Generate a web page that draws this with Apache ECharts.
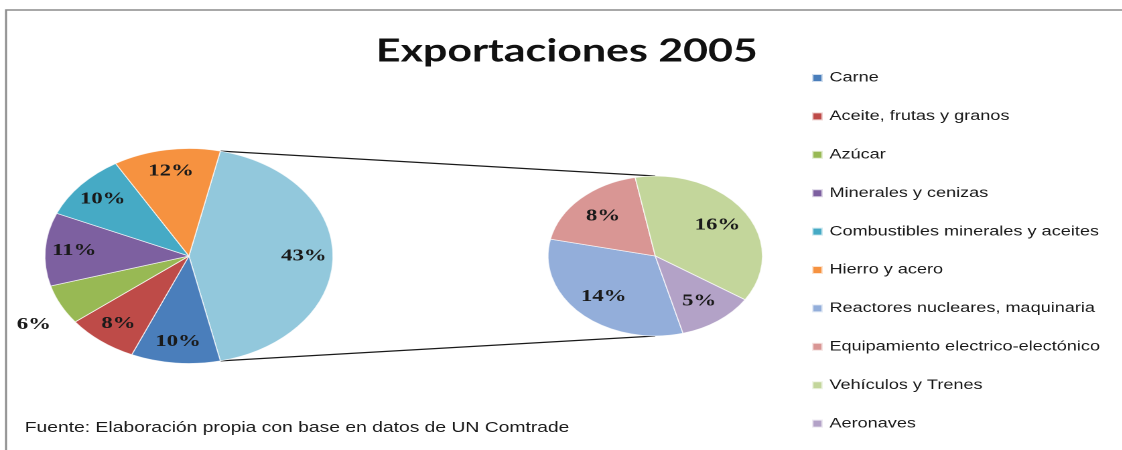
<!DOCTYPE html>
<html>
<head>
<meta charset="utf-8">
<script src="https://cdn.jsdelivr.net/npm/echarts@6/dist/echarts.min.js"></script>
<style>
  html, body { margin: 0; padding: 0; background: #ffffff; overflow: hidden; }
  #stage { width: 1122px; height: 450px; position: relative; overflow: hidden; }
  #chart { position: absolute; left: 0; top: 0; height: 450px; transform-origin: 0 0; }
</style>
</head>
<body>
<div id="stage"><div id="chart"></div></div>
<script>
// Main categories (shown in the left pie)
const primaryNames = ['Carne', 'Aceite, frutas y granos', 'Azúcar', 'Minerales y cenizas',
  'Combustibles minerales y aceites', 'Hierro y acero'];
const primaryValues = [10, 8, 6, 11, 10, 12];
const primaryColors = ['#4A7EBB', '#BE4B48', '#98B954', '#7D60A0', '#46AAC5', '#F69240'];

// Categories grouped in the detail pie (right)
const secondaryNames = ['Reactores nucleares, maquinaria', 'Equipamiento electrico-electónico',
  'Vehículos y Trenes', 'Aeronaves'];
const secondaryValues = [14, 8, 16, 5];
const secondaryColors = ['#93AEDA', '#D99694', '#C3D69B', '#B3A2C7'];

const otherName = 'Otros';
const otherColor = '#92C8DC';

const titleText = 'Exportaciones 2005';
const sourceText = 'Fuente: Elaboración propia con base en datos de UN Comtrade';

// The drawing is laid out on a narrower canvas and stretched horizontally,
// which turns both pies into wide ellipses.
const SX = 1.34;
const W = 1122 / SX;

const CY = 256;
const LEFT = { cx: 141, r: 107.5, labelAt: 0.77 };
const RIGHT = { cx: 489, r: 80, labelAt: 0.66 };

const otherValue = secondaryValues.reduce((a, b) => a + b, 0);
const total = otherValue + primaryValues.reduce((a, b) => a + b, 0);
// "Otros" slice is centred on the right-hand side, facing the detail pie
const halfOther = otherValue / total * 360 / 2;
const leftStart = halfOther;
const rightStart = 285;

const labelFont = {
  fontFamily: 'Liberation Serif', fontWeight: 'bold', fontSize: 17, color: '#1a1a1a'
};

const leftData = [{ name: otherName, value: otherValue, itemStyle: { color: otherColor } }]
  .concat(primaryNames.map((n, i) => ({ name: n, value: primaryValues[i], itemStyle: { color: primaryColors[i] } })));
const rightData = secondaryNames.map((n, i) => ({ name: n, value: secondaryValues[i], itemStyle: { color: secondaryColors[i] } }));

// Slices too thin for an inside label get an outside one
const outsideNames = ['Azúcar'];

function leftSliceData() {
  return leftData.map(d => Object.assign({}, d, {
    label: outsideNames.includes(d.name)
      ? Object.assign({ show: true, position: 'outside', distanceToLabelLine: -32, formatter: '{c}%' }, labelFont)
      : { show: false }
  }));
}

// Transparent twin pies, twice the label radius, so 'inside' labels sit at labelAt * r
function labelLayer(data, geo, start, skip) {
  return {
    type: 'pie', silent: true, z: 5,
    center: [geo.cx, CY], radius: [0, geo.r * geo.labelAt * 2],
    startAngle: start, clockwise: true, animation: false,
    avoidLabelOverlap: false, legendHoverLink: false, tooltip: { show: false },
    itemStyle: { color: 'transparent', borderWidth: 0 },
    label: Object.assign({ show: true, position: 'inside', formatter: '{c}%' }, labelFont),
    labelLine: { show: false },
    emphasis: { disabled: true },
    data: data.map(d => ({
      name: d.name, value: d.value,
      itemStyle: { color: 'transparent' },
      label: { show: !skip.includes(d.name) }
    }))
  };
}

// Connector lines between the "Otros" slice edges and the detail pie
const a = halfOther * Math.PI / 180;
const lx = LEFT.cx + LEFT.r * Math.cos(a);
const ly = LEFT.r * Math.sin(a);
const connectorStyle = { stroke: '#1a1a1a', lineWidth: 1.3 };

const chartDom = document.getElementById('chart');
chartDom.style.width = W + 'px';
chartDom.style.transform = 'scaleX(' + SX + ')';
const chart = echarts.init(chartDom, null, { renderer: 'canvas', devicePixelRatio: 2 });

chart.setOption({
  backgroundColor: '#ffffff',
  animation: false,
  title: {
    text: titleText,
    left: 418, top: 30, textAlign: 'center',
    textStyle: { fontFamily: 'Lato', fontWeight: 'bold', fontSize: 32, color: '#111111' }
  },
  legend: {
    orient: 'vertical', left: 605, top: 70, padding: 0,
    icon: 'rect', itemWidth: 8, itemHeight: 8, itemGap: 22.4,
    selectedMode: false,
    textStyle: { fontFamily: 'Liberation Sans', fontSize: 13.5, color: '#1a1a1a', lineHeight: 16 },
    data: primaryNames.concat(secondaryNames)
  },
  graphic: [
    { type: 'rect', silent: true, z: 0,
      shape: { x: 4.5, y: 10, width: W + 40, height: 500 },
      style: { fill: 'none', stroke: '#8c8c8c', lineWidth: 1.5 } },
    { type: 'text', silent: true, x: 18.5, y: 428,
      style: { text: sourceText, fontFamily: 'Liberation Sans', fontSize: 14.4, fill: '#1a1a1a',
        verticalAlign: 'middle', textAlign: 'left' } },
    { type: 'line', silent: true, z: 1,
      shape: { x1: lx, y1: CY - ly, x2: RIGHT.cx, y2: CY - RIGHT.r }, style: connectorStyle },
    { type: 'line', silent: true, z: 1,
      shape: { x1: lx, y1: CY + ly, x2: RIGHT.cx, y2: CY + RIGHT.r }, style: connectorStyle }
  ],
  series: [
    {
      type: 'pie', name: 'primary', z: 2,
      center: [LEFT.cx, CY], radius: [0, LEFT.r],
      startAngle: leftStart, clockwise: true,
      avoidLabelOverlap: false,
      itemStyle: { borderColor: 'rgba(255,255,255,0.75)', borderWidth: 0.8 },
      labelLine: { show: false, length: 44, length2: 0 },
      emphasis: { disabled: true },
      data: leftSliceData()
    },
    {
      type: 'pie', name: 'secondary', z: 2,
      center: [RIGHT.cx, CY], radius: [0, RIGHT.r],
      startAngle: rightStart, clockwise: true,
      avoidLabelOverlap: false,
      itemStyle: { borderColor: 'rgba(255,255,255,0.75)', borderWidth: 0.8 },
      label: { show: false },
      labelLine: { show: false },
      emphasis: { disabled: true },
      data: rightData
    },
    labelLayer(leftData, LEFT, leftStart, outsideNames),
    labelLayer(rightData, RIGHT, rightStart, [])
  ]
});
</script>
</body>
</html>
